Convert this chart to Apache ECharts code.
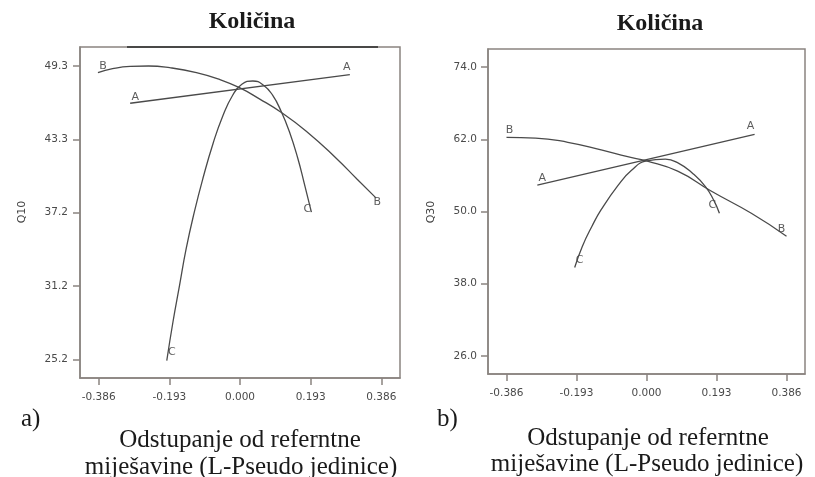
<!DOCTYPE html>
<html>
<head>
<meta charset="utf-8">
<script src="https://cdn.jsdelivr.net/npm/echarts@6/dist/echarts.min.js"></script>
<style>
html,body{margin:0;padding:0;background:#fff;}
#chart{width:815px;height:477px;}
</style>
</head>
<body>
<div id="chart"></div>
<script>
// ---- data ----
const xTicks = [-0.386, -0.193, 0, 0.193, 0.386];
const yTicksLeft = [25.2, 31.225, 37.25, 43.275, 49.3];
const yTickLabelsLeft = ['25.2', '31.2', '37.2', '43.3', '49.3'];
const yTicksRight = [26, 38, 50, 62, 74];
const yTickLabelsRight = ['26.0', '38.0', '50.0', '62.0', '74.0'];

const leftA = [[-0.300, 46.24], [0.300, 48.60]];
const leftB = [[-0.388, 48.75], [-0.348, 49.08], [-0.300, 49.27], [-0.250, 49.30], [-0.192, 49.16], [-0.119, 48.76], [-0.056, 48.20], [0, 47.50], [0.053, 46.60], [0.112, 45.50], [0.181, 43.95], [0.262, 41.75], [0.320, 40.00], [0.372, 38.45]];
const leftC = [[-0.200, 25.1], [-0.183, 28.3], [-0.165, 31.3], [-0.147, 34.3], [-0.124, 37.4], [-0.101, 40.1], [-0.074, 42.9], [-0.047, 45.2], [-0.020, 46.9], [0.005, 47.8], [0.035, 48.07], [0.065, 47.7], [0.089, 46.9], [0.112, 45.6], [0.135, 43.9], [0.158, 41.7], [0.176, 39.6], [0.195, 37.3]];

const rightA = [[-0.301, 54.4], [0.298, 62.8]];
const rightB = [[-0.386, 62.3], [-0.306, 62.2], [-0.217, 61.5], [-0.125, 60.25], [-0.052, 59.1], [0, 58.4], [0.086, 56.7], [0.178, 53.4], [0.289, 49.7], [0.386, 45.9]];
const rightC = [[-0.198, 40.7], [-0.177, 44.2], [-0.150, 47.6], [-0.125, 50.3], [-0.079, 54.3], [-0.042, 56.8], [0, 58.4], [0.052, 58.7], [0.089, 58.0], [0.126, 56.4], [0.163, 54.1], [0.186, 51.8], [0.201, 49.7]];

const traceNames = ['A', 'B', 'C'];

// ---- styles ----
const SERIF = '"Liberation Serif", "Times New Roman", serif';
const SANS = '"DejaVu Sans", "Liberation Sans", sans-serif';
const lineColor = '#4a4a4a';
const frameColor = '#8a8480';
const tickColor = '#4a4a4a';

// label offsets [start, end] per trace (style only)
const offsLeft = {A: [[5, -6], [-3, -7]], B: [[5, -7], [1, 4]], C: [[5, -9], [-4, -3]]};
const offsRight = {A: [[5, -7], [-4, -8]], B: [[3, -7], [-5, -7]], C: [[5, -7], [-7, -8]]};

function lookup(ticks, labels) {
  return function (v) {
    for (let i = 0; i < ticks.length; i++) if (Math.abs(ticks[i] - v) < 1e-6) return labels[i];
    return '';
  };
}

function xAxis(gi) {
  return {
    type: 'value', gridIndex: gi, min: -0.437, max: 0.437,
    axisLine: {show: true, onZero: false, lineStyle: {color: frameColor, width: 1.5}},
    axisTick: {show: true, customValues: xTicks, length: 7, lineStyle: {color: frameColor, width: 1.5}},
    axisLabel: {customValues: xTicks, margin: 14, fontFamily: SANS, fontSize: 10.5, color: tickColor,
      formatter: v => v.toFixed(3)},
    splitLine: {show: false}
  };
}
function yAxis(gi, min, max, ticks, labels, margin) {
  return {
    type: 'value', gridIndex: gi, min: min, max: max,
    axisLine: {show: true, onZero: false, lineStyle: {color: frameColor, width: 1.5}},
    axisTick: {show: true, customValues: ticks, length: 7, lineStyle: {color: frameColor, width: 1.5}},
    axisLabel: {customValues: ticks, margin: margin, fontFamily: SANS, fontSize: 10.5, color: tickColor,
      formatter: lookup(ticks, labels)},
    splitLine: {show: false}
  };
}

function curve(data, gi) {
  return {
    type: 'line', xAxisIndex: gi, yAxisIndex: gi, data: data, smooth: 0.5,
    showSymbol: false, symbol: 'none', silent: true,
    lineStyle: {color: lineColor, width: 1.3}
  };
}
function labelSeries(curves, offs, gi) {
  const pts = [];
  curves.forEach((c, i) => {
    const nm = traceNames[i];
    pts.push({value: c[0], label: {formatter: nm, offset: offs[nm][0]}});
    pts.push({value: c[c.length - 1], label: {formatter: nm, offset: offs[nm][1]}});
  });
  return {
    type: 'scatter', xAxisIndex: gi, yAxisIndex: gi, data: pts, symbolSize: 1, silent: true,
    itemStyle: {color: 'rgba(0,0,0,0)'},
    label: {show: true, position: 'inside', fontFamily: SANS, fontSize: 11, color: '#333'}
  };
}

const chart = echarts.init(document.getElementById('chart'), null, {renderer: 'canvas'});
const txt = (x, y, t, size, opts) => Object.assign({
  type: 'text', x: x, y: y,
  style: Object.assign({text: t, font: (opts && opts.bold ? 'bold ' : '') + size + 'px ' + SERIF,
    fill: '#1a1a1a', align: 'center', verticalAlign: 'middle'}, opts && opts.style)
}, opts && opts.el);

chart.setOption({
  animation: false,
  grid: [
    {left: 80, top: 47, width: 320, height: 331, show: true, borderColor: frameColor, borderWidth: 1.5, backgroundColor: '#fff'},
    {left: 488, top: 49, width: 317, height: 325, show: true, borderColor: frameColor, borderWidth: 1.5, backgroundColor: '#fff'}
  ],
  xAxis: [xAxis(0), xAxis(1)],
  yAxis: [
    yAxis(0, 23.68, 50.86, yTicksLeft, yTickLabelsLeft, 12),
    yAxis(1, 23.0, 77.0, yTicksRight, yTickLabelsRight, 11)
  ],
  series: [
    curve(leftA, 0), curve(leftB, 0), curve(leftC, 0),
    labelSeries([leftA, leftB, leftC], offsLeft, 0),
    curve(rightA, 1), curve(rightB, 1), curve(rightC, 1),
    labelSeries([rightA, rightB, rightC], offsRight, 1)
  ],
  graphic: [
    {type: 'line', shape: {x1: 127, y1: 47, x2: 378, y2: 47}, style: {stroke: '#2a2a2a', lineWidth: 1.5}, z: 10},
    txt(252, 22, 'Količina', 24, {bold: true}),
    txt(660, 24, 'Količina', 24, {bold: true}),
    txt(21, 419, 'a)', 25, {style: {align: 'left'}}),
    txt(437, 419, 'b)', 25, {style: {align: 'left'}}),
    txt(240, 440, 'Odstupanje od referntne', 25),
    txt(241, 467, 'miješavine (L-Pseudo jedinice)', 25),
    txt(648, 438, 'Odstupanje od referntne', 25),
    txt(647, 464, 'miješavine (L-Pseudo jedinice)', 25),
    {type: 'text', x: 22, y: 212, rotation: Math.PI / 2,
      style: {text: 'Q10', font: '11px ' + SANS, fill: '#444', align: 'center', verticalAlign: 'middle'}},
    {type: 'text', x: 431, y: 212, rotation: Math.PI / 2,
      style: {text: 'Q30', font: '11px ' + SANS, fill: '#444', align: 'center', verticalAlign: 'middle'}}
  ]
});
</script>
</body>
</html>
